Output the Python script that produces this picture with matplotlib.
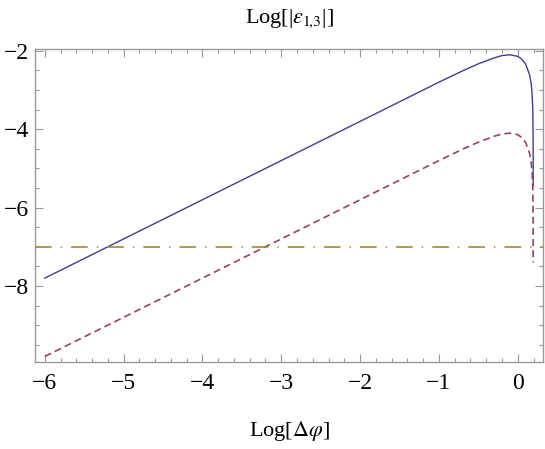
import matplotlib
matplotlib.use("Agg")
import matplotlib.pyplot as plt
from matplotlib.ticker import MultipleLocator

plt.rcParams['font.family'] = ['Liberation Serif', 'DejaVu Serif']
plt.rcParams['mathtext.fontset'] = 'stix'
plt.rcParams['lines.scale_dashes'] = False

# values (Log[Δφ] vs Log[|ε13|])
log_dphi = [-6.0, -5.0, -4.0, -3.0, -2.0, -1.5, -1.0, -0.7, -0.5, -0.3, -0.2,
            -0.1, 0.0, 0.05, 0.1, 0.15, 0.17, 0.18, 0.19, 0.195, 0.1958]
eps_solid = [-7.80, -6.80, -5.80, -4.80, -3.80, -3.30, -2.80, -2.51, -2.33, -2.18, -2.12,
             -2.10, -2.14, -2.21, -2.34, -2.61, -2.84, -3.04, -3.46, -4.20, -5.45]
eps_dashed = [-9.80, -8.80, -7.80, -6.80, -5.80, -5.30, -4.80, -4.51, -4.33, -4.18, -4.12,
              -4.10, -4.14, -4.21, -4.34, -4.61, -4.84, -5.04, -5.46, -6.20, -7.40]
threshold = -7.0

fig = plt.figure(figsize=(5.45, 4.49), dpi=100)
ax = fig.add_axes([0.0642, 0.1938, 0.9321, 0.6964])

ax.plot(log_dphi, eps_solid, color='#3d3d99', lw=1.0)
ax.plot(log_dphi, eps_dashed, color='#993d74', lw=1.2, linestyle=(0, (5, 3)))
ax.axhline(threshold, color='#998c3d', lw=1.2, linestyle=(0, (12, 6.5, 1, 6.5)))

ax.set_xlim(-6.124, 0.32)
ax.set_ylim(-9.94, -1.96)

ax.xaxis.set_major_locator(MultipleLocator(1))
ax.xaxis.set_minor_locator(MultipleLocator(0.2))
ax.yaxis.set_major_locator(MultipleLocator(2))
ax.yaxis.set_minor_locator(MultipleLocator(0.5))
ax.tick_params(which='both', direction='in', top=True, right=True,
               color='#999999', labelsize=17, width=0.8)
ax.tick_params(which='major', length=5.5)
ax.tick_params(which='minor', length=3)
ax.tick_params(axis='x', pad=8)
ax.tick_params(axis='y', pad=4)
for s in ax.spines.values():
    s.set_color('#999999')
    s.set_linewidth(1.0)

ax.set_title(r"Log[|$\varepsilon_{1\!,\!3}$|]", fontsize=16, pad=19)
ax.set_xlabel(r"Log[$\Delta\varphi$]", fontsize=16, labelpad=18)

fig.savefig("out.png", dpi=100)
